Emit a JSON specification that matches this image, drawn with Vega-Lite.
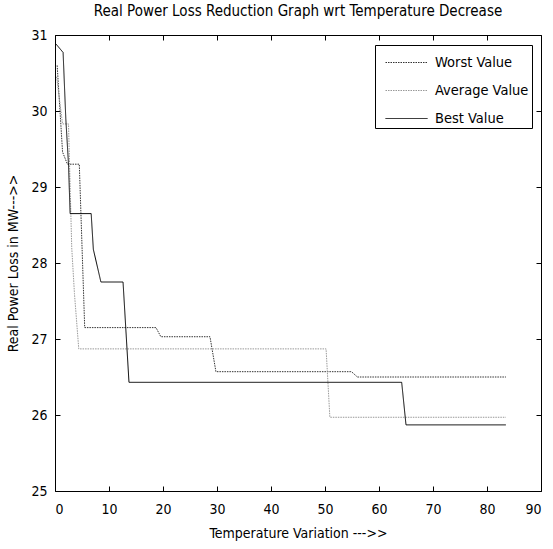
{
  "$schema": "https://vega.github.io/schema/vega-lite/v6.json",
  "width": 486,
  "height": 456,
  "autosize": {"type": "none"},
  "padding": {"left": 55, "top": 35, "right": 12, "bottom": 58},
  "background": "white",
  "title": {"text": "Real Power Loss Reduction Graph wrt Temperature Decrease", "fontSize": 15, "fontWeight": "normal", "font": "DejaVu Sans Condensed", "anchor": "middle", "offset": 9, "color": "black"},
  "config": {
    "view": {"stroke": "black", "strokeWidth": 1},
    "axis": {"labelFont": "DejaVu Sans Condensed", "titleFont": "DejaVu Sans Condensed", "labelFontSize": 14, "titleFontSize": 14, "titleFontWeight": "normal", "labelColor": "black", "titleColor": "black", "grid": false, "tickColor": "black", "domainColor": "black", "tickSize": -5}
  },
  "data": {"values": [
    {"s": "Worst Value", "i": 1, "x": 0.4, "v": 30.6},
    {"s": "Worst Value", "i": 2, "x": 1.4, "v": 29.46},
    {"s": "Worst Value", "i": 3, "x": 2.3, "v": 29.3},
    {"s": "Worst Value", "i": 4, "x": 4.5, "v": 29.3},
    {"s": "Worst Value", "i": 5, "x": 5.5, "v": 27.15},
    {"s": "Worst Value", "i": 6, "x": 18.7, "v": 27.15},
    {"s": "Worst Value", "i": 7, "x": 19.6, "v": 27.03},
    {"s": "Worst Value", "i": 8, "x": 28.7, "v": 27.03},
    {"s": "Worst Value", "i": 9, "x": 29.8, "v": 26.57},
    {"s": "Worst Value", "i": 10, "x": 54.9, "v": 26.57},
    {"s": "Worst Value", "i": 11, "x": 56.0, "v": 26.5},
    {"s": "Worst Value", "i": 12, "x": 83.5, "v": 26.5},
    {"s": "Average Value", "i": 1, "x": 0.3, "v": 30.45},
    {"s": "Average Value", "i": 2, "x": 1.4, "v": 29.83},
    {"s": "Average Value", "i": 3, "x": 2.5, "v": 29.83},
    {"s": "Average Value", "i": 4, "x": 3.1, "v": 28.2},
    {"s": "Average Value", "i": 5, "x": 3.6, "v": 27.6},
    {"s": "Average Value", "i": 6, "x": 4.4, "v": 26.87},
    {"s": "Average Value", "i": 7, "x": 50.2, "v": 26.87},
    {"s": "Average Value", "i": 8, "x": 50.9, "v": 25.97},
    {"s": "Average Value", "i": 9, "x": 83.5, "v": 25.97},
    {"s": "Best Value", "i": 1, "x": 0.2, "v": 30.88},
    {"s": "Best Value", "i": 2, "x": 1.5, "v": 30.77},
    {"s": "Best Value", "i": 3, "x": 2.0, "v": 29.9},
    {"s": "Best Value", "i": 4, "x": 2.5, "v": 29.3},
    {"s": "Best Value", "i": 5, "x": 2.8, "v": 28.65},
    {"s": "Best Value", "i": 6, "x": 6.7, "v": 28.65},
    {"s": "Best Value", "i": 7, "x": 7.1, "v": 28.18},
    {"s": "Best Value", "i": 8, "x": 8.5, "v": 27.75},
    {"s": "Best Value", "i": 9, "x": 12.6, "v": 27.75},
    {"s": "Best Value", "i": 10, "x": 13.7, "v": 26.43},
    {"s": "Best Value", "i": 11, "x": 64.2, "v": 26.43},
    {"s": "Best Value", "i": 12, "x": 65.0, "v": 25.87},
    {"s": "Best Value", "i": 13, "x": 83.5, "v": 25.87}
  ]},
  "layer": [
    {
      "mark": {"type": "line", "strokeWidth": 1},
      "encoding": {
        "x": {"field": "x", "type": "quantitative", "scale": {"domain": [0, 90], "nice": false, "zero": false},
              "axis": {"title": "Temperature Variation --->>", "values": [0, 10, 20, 30, 40, 50, 60, 70, 80, 90], "labelPadding": 16, "titlePadding": 10, "domain": false}},
        "y": {"field": "v", "type": "quantitative", "scale": {"domain": [25, 31], "nice": false, "zero": false},
              "axis": {"title": "Real Power Loss in MW--->>", "values": [25, 26, 27, 28, 29, 30, 31], "labelPadding": 13, "titlePadding": 10, "domain": false}},
        "color": {"field": "s", "type": "nominal",
                  "scale": {"domain": ["Worst Value", "Average Value", "Best Value"], "range": ["#333333", "#999999", "#000000"]},
                  "legend": {"orient": "none", "legendX": 320, "legendY": 10, "title": null, "strokeColor": "black", "fillColor": "white", "padding": 3, "labelFontSize": 14.5, "labelFont": "DejaVu Sans Condensed", "labelColor": "black", "symbolType": "M-0.5,0H2.5", "symbolSize": 784, "symbolStrokeWidth": 1, "rowPadding": 7, "labelOffset": 28}},
        "strokeDash": {"field": "s", "type": "nominal",
                       "scale": {"domain": ["Worst Value", "Average Value", "Best Value"], "range": [[1.5, 1], [1.5, 1], [1, 0]]}},
        "order": {"field": "i", "type": "quantitative"}
      }
    },
    {
      "mark": {"type": "line", "opacity": 0},
      "encoding": {
        "x": {"field": "x", "type": "quantitative", "axis": {"orient": "top", "labels": false, "title": null, "values": [0, 10, 20, 30, 40, 50, 60, 70, 80, 90], "domain": false}},
        "y": {"field": "v", "type": "quantitative", "axis": {"orient": "right", "labels": false, "title": null, "values": [25, 26, 27, 28, 29, 30, 31], "domain": false}},
        "detail": {"field": "s", "type": "nominal"},
        "order": {"field": "i", "type": "quantitative"}
      }
    }
  ],
  "resolve": {"axis": {"x": "independent", "y": "independent"}}
}
